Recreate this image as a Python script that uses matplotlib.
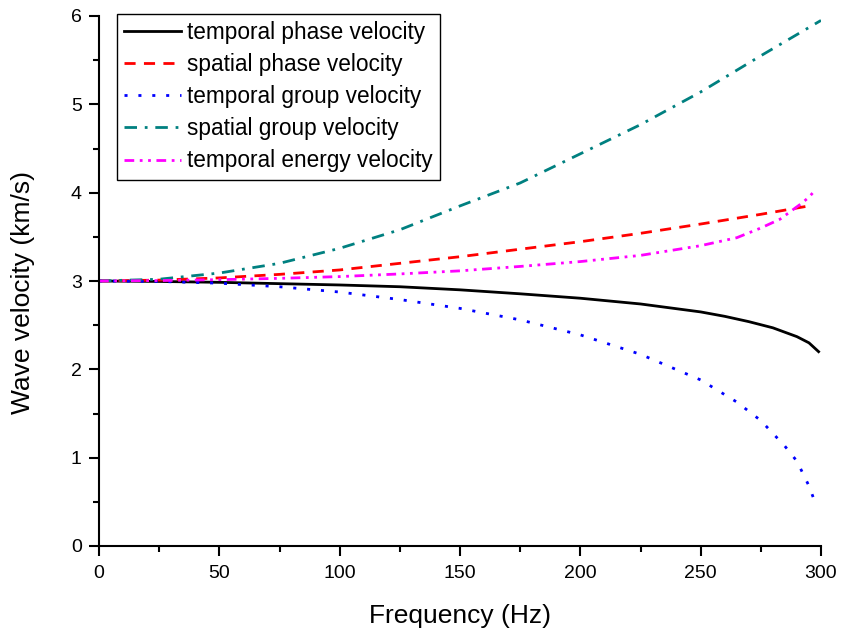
import matplotlib

matplotlib.use("Agg")
import matplotlib.pyplot as plt
from matplotlib.ticker import MultipleLocator


plt.rcParams["font.family"] = ["Liberation Sans", "DejaVu Sans"]

# values
f_temporal_phase = [0, 25, 50, 75, 100, 125, 150, 175, 200, 225, 250, 260, 270, 280, 285,
                    290, 295, 299]
v_temporal_phase = [3.00, 2.995, 2.985, 2.97, 2.955, 2.935, 2.90, 2.855, 2.805, 2.74, 2.65,
                    2.60, 2.54, 2.47, 2.42, 2.37, 2.30, 2.20]

f_spatial_phase = [0, 25, 50, 75, 100, 125, 150, 175, 200, 225, 250, 275, 295]
v_spatial_phase = [3.00, 3.01, 3.035, 3.075, 3.125, 3.20, 3.275, 3.36, 3.445, 3.54, 3.645,
                   3.755, 3.85]

f_temporal_group = [0, 25, 50, 75, 100, 125, 150, 175, 200, 225, 250, 265, 275, 285, 290,
                    295, 298]
v_temporal_group = [3.00, 2.995, 2.975, 2.935, 2.875, 2.79, 2.69, 2.56, 2.39, 2.17, 1.88,
                    1.63, 1.42, 1.13, 0.96, 0.68, 0.46]

f_spatial_group = [0, 25, 50, 75, 100, 125, 150, 175, 200, 225, 250, 275, 300]
v_spatial_group = [3.00, 3.02, 3.09, 3.20, 3.37, 3.58, 3.85, 4.11, 4.44, 4.77, 5.14, 5.55, 5.95]

f_temporal_energy = [0, 25, 50, 75, 100, 125, 150, 175, 200, 225, 250, 265, 275, 283, 288,
                     292, 295, 298]
v_temporal_energy = [3.00, 3.005, 3.015, 3.03, 3.05, 3.08, 3.115, 3.165, 3.22, 3.29, 3.40,
                     3.49, 3.60, 3.70, 3.80, 3.88, 3.95, 4.04]

fig = plt.figure(figsize=(8.41, 6.33), dpi=100)
ax = fig.add_axes([99 / 841, 87 / 633, 722 / 841, 530 / 633])

lw = 2.0
ax.plot(f_temporal_phase, v_temporal_phase, color="black", lw=lw,
        label="temporal phase velocity")
ax.plot(f_spatial_phase, v_spatial_phase, color="#FF0000", lw=lw,
        linestyle=(0, (4, 3)), label="spatial phase velocity")
ax.plot(f_temporal_group, v_temporal_group, color="#0000FF", lw=lw,
        linestyle=(0, (1.1, 3.9)), label="temporal group velocity")
ax.plot(f_spatial_group, v_spatial_group, color="#008080", lw=lw,
        linestyle=(0, (4.5, 2.8, 1, 2.8)), label="spatial group velocity")
ax.plot(f_temporal_energy, v_temporal_energy, color="#FF00FF", lw=lw,
        linestyle=(0, (3.5, 2, 1, 2, 1, 2)), label="temporal energy velocity")

ax.set_xlim(0, 300)
ax.set_ylim(0, 6)
ax.xaxis.set_major_locator(MultipleLocator(50))
ax.xaxis.set_minor_locator(MultipleLocator(25))
ax.yaxis.set_major_locator(MultipleLocator(1))
ax.yaxis.set_minor_locator(MultipleLocator(0.5))

ax.spines["top"].set_visible(False)
ax.spines["right"].set_visible(False)
for side in ["left", "bottom"]:
    ax.spines[side].set_linewidth(1.5)

ax.tick_params(which="major", direction="out", length=7.5, width=1.5, labelsize=14)
ax.tick_params(which="minor", direction="out", length=4, width=1.5)
ax.tick_params(axis="x", which="major", pad=6)
ax.tick_params(axis="y", which="major", pad=5)

ax.set_xlabel("Frequency (Hz)", fontsize=19)
ax.set_ylabel("Wave velocity (km/s)", fontsize=19)
ax.xaxis.set_label_coords(0.5, -0.109)
ax.yaxis.set_label_coords(-0.0886, 0.479)

leg = ax.legend(
    loc="upper left",
    bbox_to_anchor=(18 / 722, 532 / 530),
    borderaxespad=0,
    fontsize=16.3,
    handlelength=2.5,
    handletextpad=0.26,
    labelspacing=0.4,
    borderpad=0.32,
    fancybox=False,
    framealpha=1,
    edgecolor="black",
)
leg.get_frame().set_linewidth(1.0)

plt.savefig("out.png", dpi=100)
